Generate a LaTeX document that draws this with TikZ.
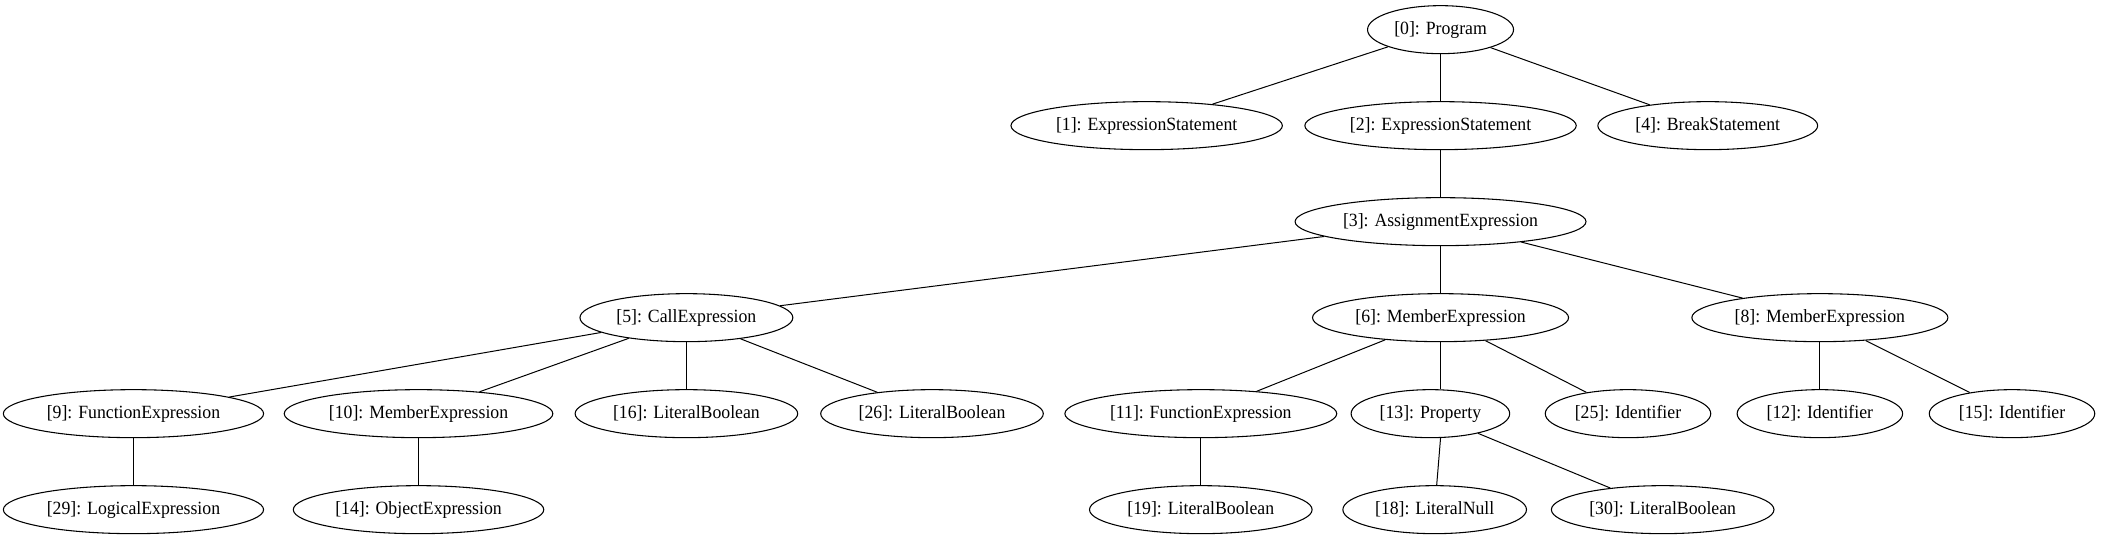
\documentclass[tikz,border=0pt]{standalone}
\usepackage{fontspec}
\setmainfont[FakeStretch=0.95]{Liberation Serif}
\usepackage{tikz}
\usetikzlibrary{shapes.geometric}

\tikzset{
  astnode/.style={draw, ellipse, line width=0.8pt, inner xsep=4pt, inner ysep=2pt, minimum height=36pt, font=\fontsize{14}{16}\selectfont},
  astedge/.style={line width=0.75pt}
}

\begin{document}
\begin{tikzpicture}[x=1pt, y=1pt]
  \useasboundingbox (0,0) rectangle (1576.5,404.25);
  \node[astnode] (n0) at (1080.4,382) {[0]: Program};
  \node[astnode] (n1) at (860,310) {[1]: ExpressionStatement};
  \node[astnode] (n2) at (1080.4,310) {[2]: ExpressionStatement};
  \node[astnode] (n4) at (1280.8,310) {[4]: BreakStatement};
  \node[astnode] (n3) at (1080.4,238) {[3]: AssignmentExpression};
  \node[astnode] (n5) at (514.8,166) {[5]: CallExpression};
  \node[astnode] (n6) at (1080.4,166) {[6]: MemberExpression};
  \node[astnode] (n8) at (1364.9,166) {[8]: MemberExpression};
  \node[astnode] (n9) at (100.1,94) {[9]: FunctionExpression};
  \node[astnode] (n10) at (313.9,94) {[10]: MemberExpression};
  \node[astnode] (n16) at (514.8,94) {[16]: LiteralBoolean};
  \node[astnode] (n26) at (699,94) {[26]: LiteralBoolean};
  \node[astnode] (n11) at (900.6,94) {[11]: FunctionExpression};
  \node[astnode] (n13) at (1072.8,94) {[13]: Property};
  \node[astnode] (n25) at (1221,94) {[25]: Identifier};
  \node[astnode] (n12) at (1364.9,94) {[12]: Identifier};
  \node[astnode] (n15) at (1509,94) {[15]: Identifier};
  \node[astnode] (n29) at (100.1,22) {[29]: LogicalExpression};
  \node[astnode] (n14) at (313.9,22) {[14]: ObjectExpression};
  \node[astnode] (n19) at (900.6,22) {[19]: LiteralBoolean};
  \node[astnode] (n18) at (1076,22) {[18]: LiteralNull};
  \node[astnode] (n30) at (1247,22) {[30]: LiteralBoolean};
  % edges
  \draw[astedge] (n0) -- (n1);
  \draw[astedge] (n0) -- (n2);
  \draw[astedge] (n0) -- (n4);
  \draw[astedge] (n2) -- (n3);
  \draw[astedge] (n3) -- (n5);
  \draw[astedge] (n3) -- (n6);
  \draw[astedge] (n3) -- (n8);
  \draw[astedge] (n5) -- (n9);
  \draw[astedge] (n5) -- (n10);
  \draw[astedge] (n5) -- (n16);
  \draw[astedge] (n5) -- (n26);
  \draw[astedge] (n6) -- (n11);
  \draw[astedge] (n6) -- (n6 |- n13.north);
  \draw[astedge] (n6) -- (n25);
  \draw[astedge] (n8) -- (n12);
  \draw[astedge] (n8) -- (n15);
  \draw[astedge] (n9) -- (n29);
  \draw[astedge] (n10) -- (n14);
  \draw[astedge] (n11) -- (n19);
  \draw[astedge] (n6 |- n13.south) -- (n18);
  \draw[astedge] (n13) -- (n30);
\end{tikzpicture}
\end{document}
